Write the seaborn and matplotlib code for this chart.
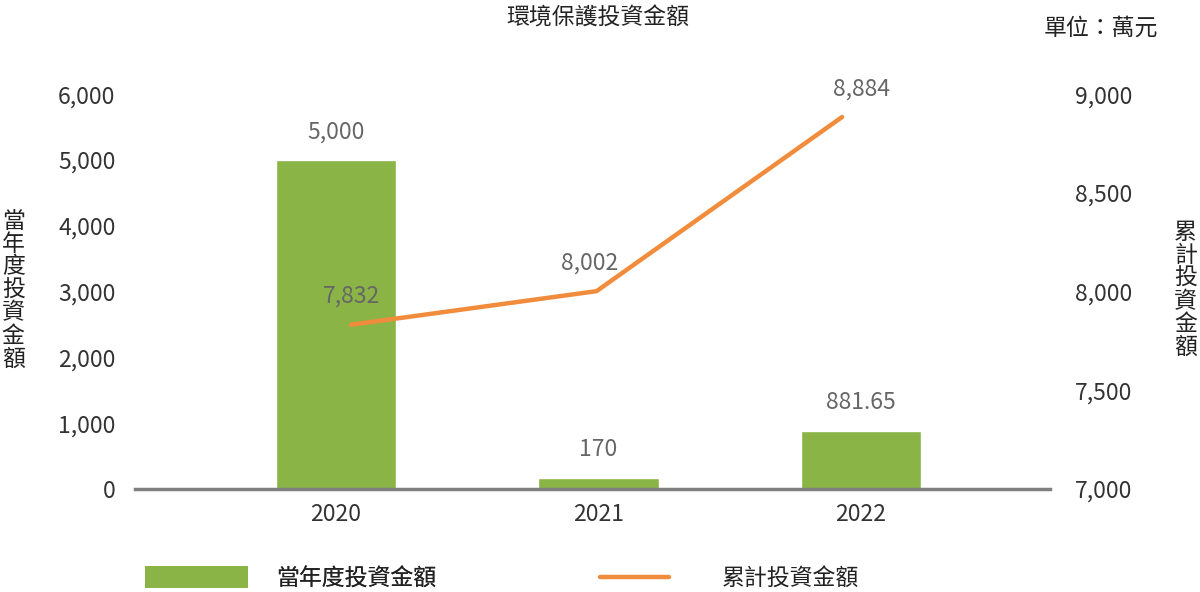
import numpy as np
import pandas as pd
import seaborn as sns
import matplotlib.pyplot as plt
from matplotlib.patches import Patch
from matplotlib.lines import Line2D

# --- data ---
years = ["2020", "2021", "2022"]
annual_invest = [5000, 170, 881.65]
annual_labels = ["5,000", "170", "881.65"]
cum_invest = [7832, 8002, 8884]
cum_labels = ["7,832", "8,002", "8,884"]
left_ticks = [0, 1000, 2000, 3000, 4000, 5000, 6000]
right_ticks = [7000, 7500, 8000, 8500, 9000]

GREEN = "#8AB446"
ORANGE = "#F28C3D"
TXT = "#333333"
LBL = "#666666"

sns.set_theme(style="white")
plt.rcParams["font.family"] = ["Noto Sans CJK TC", "DejaVu Sans"]

df = pd.DataFrame({"year": years, "annual": annual_invest, "cum": cum_invest})

fig = plt.figure(figsize=(12, 5.92), dpi=100)
pos = [0.1125, 0.174, 0.7625, 0.667]
ax = fig.add_axes(pos)

# --- bars (left axis) ---
sns.barplot(data=df, x="year", y="annual", color=GREEN, saturation=1,
            width=0.46, ax=ax)
ax.set_xlim(-0.766, 2.72)
ax.set_ylim(0, 6000)
ax.set_yticks(left_ticks)
ax.set_yticklabels([f"{v:,}" for v in left_ticks])
ax.set_xlabel("")
ax.set_ylabel("")

# --- cumulative line (right axis, own x scale: points sit a bit inward) ---
ax2 = fig.add_axes(pos, facecolor="none")
sns.lineplot(data=df, x="year", y="cum", color=ORANGE, linewidth=3.2, ax=ax2)
ax2.set_xlim(-0.88, 2.847)
ax2.set_ylim(7000, 9000)
ax2.yaxis.tick_right()
ax2.set_yticks(right_ticks)
ax2.set_yticklabels([f"{v:,}" for v in right_ticks])
ax2.set_xticks([])
ax2.set_xlabel("")
ax2.set_ylabel("")

for a in (ax, ax2):
    for s in a.spines.values():
        s.set_visible(False)
    a.tick_params(axis="both", length=0, labelsize=16.5, colors=TXT)
ax.tick_params(axis="y", pad=14)
ax2.tick_params(axis="y", pad=18)
ax.tick_params(axis="x", pad=10)
ax.spines["bottom"].set_visible(True)
ax.spines["bottom"].set_color("#7f7f7f")
ax.spines["bottom"].set_linewidth(2.5)

# --- value labels ---
for i, (v, t) in enumerate(zip(annual_invest, annual_labels)):
    ax.annotate(t, (i, v), xytext=(0, 12), textcoords="offset points",
                ha="center", va="bottom", fontsize=16.5, color=LBL)
cum_dx = [0, -5, 14]
for i, (v, t) in enumerate(zip(cum_invest, cum_labels)):
    ax2.annotate(t, (i, v), xytext=(cum_dx[i], 12), textcoords="offset points",
                 ha="center", va="bottom", fontsize=16.5, color=LBL)

# --- titles / axis labels ---
fig.text(0.498, 0.97, "環境保護投資金額", ha="center", va="center",
         fontsize=16.5, color="#222222")
fig.text(0.917, 0.953, "單位：萬元", ha="center", va="center",
         fontsize=16.5, color="#222222")
fig.text(0.011, 0.51, "\n".join("當年度投資金額"), ha="center", va="center",
         fontsize=16.5, color="#222222", linespacing=1.0)
fig.text(0.988, 0.51, "\n".join("累計投資金額"), ha="center", va="center",
         fontsize=16.5, color="#222222", linespacing=1.0)

# --- legends ---
leg1 = fig.legend(handles=[Patch(facecolor=GREEN, edgecolor="none", label="當年度投資金額")],
                  loc="center left", bbox_to_anchor=(0.121, 0.023), frameon=False,
                  fontsize=16.5, handlelength=4.5, handleheight=1.1, handletextpad=1.2,
                  borderaxespad=0, borderpad=0)
leg2 = fig.legend(handles=[Line2D([], [], color=ORANGE, linewidth=3.2, label="累計投資金額")],
                  loc="center left", bbox_to_anchor=(0.5, 0.023), frameon=False,
                  fontsize=16.5, handlelength=3.0, handletextpad=2.3,
                  borderaxespad=0, borderpad=0)
for leg in (leg1, leg2):
    for t in leg.get_texts():
        t.set_color("#222222")
fig.add_artist(leg1)

fig.savefig("out.png", dpi=100)
